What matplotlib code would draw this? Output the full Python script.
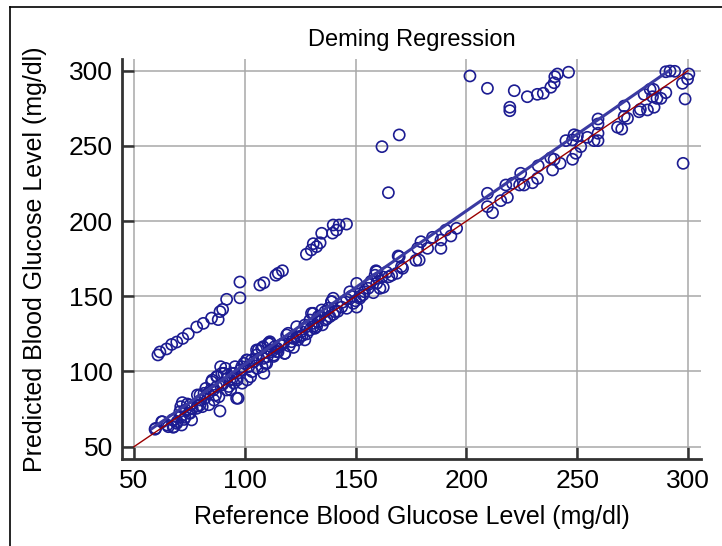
import numpy as np
import matplotlib
matplotlib.use("Agg")
import matplotlib.pyplot as plt
from matplotlib.lines import Line2D

plt.rcParams['font.family'] = ['Liberation Sans', 'DejaVu Sans']

# main band of points, close to the identity line
ref_band = [59.8, 62.8, 65, 68, 67.3, 69.5, 71.1, 72.6, 74.8, 73.3, 71.1, 71.8, 74.1, 76.3, 78.6,
            80.1, 78.6, 81.6, 82.4, 84.6, 80.8, 83.8, 86.1, 88.3, 88.8, 86.8, 85.3, 87.6, 90.6,
            91.3, 89.1, 92.1, 89.8, 92.8, 93.6, 95.1, 97, 95.1, 96.6, 98.1, 99.6, 101.1, 101.8,
            98.8, 101.1, 102.6, 103.3, 104.1, 106.3, 105.6, 107.8, 108.6, 109.3, 110.1, 111.6,
            111.6, 113.1, 114.6, 116.1,
            59.5, 62.5, 67.7, 67.7, 71.5, 73, 75.3, 76, 78.3, 79.8, 82, 83.5, 85.8, 87.3, 90.3,
            91.8, 93.3, 89.6, 87.3, 94.1, 95.6, 96.3, 96.3, 75.3, 70.7, 69.3, 65.5, 79.8, 85,
            98.6, 100.8, 103, 105.3, 107.6, 110.6, 112.1, 114.4, 116.6, 118.9, 121.1, 123.4,
            125.6, 127.9, 129.4, 130.9, 133.1, 134.7, 137.7, 139.1, 136.2, 131.6, 127.1, 118.1,
            109.9, 108.4, 123.4,
            105.3, 106.1, 108.3, 111.3, 113.5, 117.3, 119.6, 121.8, 124.9, 127.1, 129.4, 132.4,
            130.9, 130.1, 133.9, 138.4, 136.2, 140.7, 139.2, 139.9, 143.7, 146, 148.9, 151.9,
            153.4, 147.4, 150.5, 162.5, 161, 158, 155.7, 159.5, 158.8, 159.5, 166.3, 168.6,
            170.7, 169.2,
            113, 115, 118, 120, 122, 124, 126, 128, 131, 133, 135, 137, 140, 142, 144, 146, 148,
            150, 152, 154, 156, 157, 160, 162, 164, 165, 150.5,
            159.2, 171.2, 169.7, 177.2, 178.7, 178, 179.5, 182.5, 184.7, 188.5, 188.5, 190.7,
            193, 195.6, 211.8, 209.5, 209.5, 215.5, 218.5, 217.8, 220.8, 224, 224.5, 226, 229.8,
            232.1, 232.4, 238.9, 238.1, 239.6, 242.3, 247.9, 249.4, 251.6, 247.9, 244.9, 248.6,
            250.1, 254.6, 270.1, 268.2, 257.6, 259.4, 259.4, 259.4, 259.4, 271.2, 272.7, 278.5,
            277.9, 281.7, 284.7, 271.2, 290, 287.8, 286, 284, 284.4, 282.9, 280.2, 297.5, 299.8,
            300.4, 294, 291.9, 290]
pred_band = [62.2, 66.6, 64.4, 63.3, 67.8, 66.7, 70, 68.1, 72.2, 74.4, 76.6, 79.3, 78.4, 75.5, 77,
             81, 84.4, 85.5, 88.8, 87.7, 76.6, 77.9, 81, 83.2, 73.7, 84.3, 94.3, 96.5, 98.8,
             102.1, 103.2, 95.5, 91.1, 90, 87.7, 92.2, 82.2, 98.8, 94.4, 101, 105.4, 107.6, 103.2,
             92.2, 94.4, 96.5, 99.9, 106.5, 108.7, 102.1, 103.2, 98.8, 105.4, 109.8, 114.3,
             118.7, 110.9, 115.4, 117.6,
             61.6, 66.6, 62.9, 67.8, 64.4, 69.5, 72.2, 67.8, 75.5, 77.7, 82.2, 85.5, 87.7, 89.9,
             92.2, 87.7, 94.4, 98.8, 96.6, 98.8, 103.2, 95.5, 82.2, 77.7, 73.3, 65.5, 63.3, 84.4,
             93.2,
             103.2, 107.6, 107.6, 114.3, 115.4, 118.7, 113.2, 113.2, 117.6, 124.3, 119.8, 123.1,
             126.5, 129.8, 134.2, 138.7, 136.5, 140.9, 142, 146.4, 134.2, 128.7, 121, 112.1,
             105.4, 108.7, 129.8,
             111, 114.3, 116.5, 119.8, 116.5, 118.7, 125.4, 122, 123.1, 130.9, 127.6, 129.8,
             132, 138.7, 136.5, 136.5, 139.8, 139.8, 146.5, 148.7, 142.8, 142, 145.3, 148.7,
             151, 153, 158.6, 156, 155.3, 152.4, 155.3, 158.6, 164, 166.4, 164, 165.3,
             169.7, 176.8,
             110, 113, 112, 117, 116, 121, 124, 125, 130, 133, 131, 135, 138, 140, 146, 148, 150,
             147, 150, 153, 158, 160, 162, 163, 166, 163, 142.8,
             167, 168.6, 176.3, 173.9, 174.1, 181.9, 186.3, 181.9, 189.2, 181.9, 187.4, 194,
             190.1, 195.2, 205.6, 209.6, 218.5, 213.6, 215.8, 224, 225.1, 224, 231.8, 224, 225.5,
             228.4, 236.8, 234, 242, 241.1, 238.4, 241.1, 245.1, 249.5, 254, 253.5, 257.4,
             256.6, 255.7, 261.2, 262.4, 253.5, 253.5, 258.4, 264.6, 267.9, 269.6, 268.3, 274.3,
             272.7, 273.9, 275.7, 276.5, 285.4, 281.6, 281.6, 282.7, 287.6, 287.6, 284.3, 291.6,
             294.5, 297.8, 299.6, 299.8, 299.3]

# second band, about 50 mg/dl above the identity line
ref_upper = [60.8, 61.7, 64.7, 67, 69.3, 72, 74.5, 78.3, 81.3, 85, 88, 88.8, 90, 91.8, 97.8, 97.8,
             106.8, 108.6, 114, 115.1, 117, 127.8, 130, 130.9, 132.4, 134, 134.7, 139.6, 139.9,
             141.4, 142.6, 145.9]
pred_upper = [111, 113, 115, 118, 119.6, 122, 125, 129.6, 132, 135.5, 134.5, 139.8, 141.3, 148,
              149, 159.5, 157.5, 159, 164, 165.3, 167, 178, 180.8, 185, 183, 185.6, 191.9, 192,
              197.4, 194, 197.4, 198]

# scattered outliers
ref_outlier = [161.9, 169.7, 164.8, 201.6, 209.5, 221.6, 219.6, 219.6, 227.5, 232, 234.7, 238.1,
               239.6, 239.9, 241.1, 246.1, 297.8, 298.7]
pred_outlier = [249.5, 257.3, 218.9, 296.5, 288.3, 286.7, 275.7, 273.4, 282.7, 284.3, 285, 289,
                292, 296, 297.8, 299, 238.4, 281.2]

deming_slope = 1.02
deming_intercept = 2.8
deming_x = [58, 291]
identity_x = [50, 300]

ticks = [50, 100, 150, 200, 250, 300]

fig = plt.figure(figsize=(7.22, 5.46), dpi=100)
ax = fig.add_axes([0.169, 0.1593, 0.802, 0.7327])

ref_all = ref_band + ref_upper + ref_outlier
pred_all = pred_band + pred_upper + pred_outlier
ax.scatter(ref_all, pred_all, s=64, facecolors='none', edgecolors='#1c1c92',
           linewidths=1.2, zorder=3)

dx = np.array(deming_x)
ax.plot(dx, deming_intercept + deming_slope * dx, color='#3a3aa2', lw=2.2, zorder=4)
ax.plot(identity_x, identity_x, color='#9a0000', lw=1.0, zorder=5)

ax.set_xlim(44.6, 305.9)
ax.set_ylim(41.8, 307.8)
ax.set_xticks(ticks)
ax.set_yticks(ticks)
ax.grid(True, color='#a8a8a8', lw=1.1)
ax.set_axisbelow(True)

for side in ['top', 'right']:
    ax.spines[side].set_visible(False)
for side in ['left', 'bottom']:
    ax.spines[side].set_color('#333333')
    ax.spines[side].set_linewidth(2.0)

ax.tick_params(direction='in', length=8.6, width=1.8, color='#333333',
               labelsize=19, labelcolor='black')
ax.tick_params(axis='y', pad=6.5)
ax.tick_params(axis='x', pad=7)

ax.set_title('Deming Regression', fontsize=17, pad=9)
ax.set_xlabel('Reference Blood Glucose Level (mg/dl)', fontsize=18)
ax.set_ylabel('Predicted Blood Glucose Level (mg/dl)', fontsize=18)
ax.xaxis.set_label_coords(0.5, -0.115)
ax.yaxis.set_label_coords(-0.13, 0.5)

# outer frame, cut off at the right and bottom
fig.add_artist(Line2D([10 / 722, 1], [1 - 7 / 546, 1 - 7 / 546], color='black', lw=1.2))
fig.add_artist(Line2D([10 / 722, 10 / 722], [0, 1 - 7 / 546], color='black', lw=1.2))

fig.savefig('out.png', dpi=100)
